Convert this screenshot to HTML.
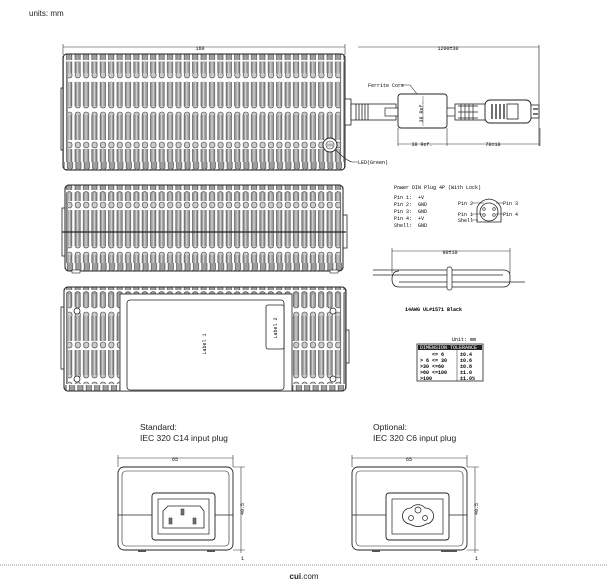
<!DOCTYPE html>
<html><head><meta charset="utf-8"><style>
html,body{margin:0;padding:0;background:#fff;}
svg{display:block;font-family:"Liberation Sans",sans-serif;}
.t{font-size:5px;font-family:"Liberation Mono",monospace;}
</style></head><body>
<svg width="608" height="582" viewBox="0 0 608 582">
<defs>
<pattern id="rib" x="66" y="0" width="8.4" height="10" patternUnits="userSpaceOnUse">
<rect x="0" y="0" width="8.4" height="10" fill="#fff"/>
<rect x="0.6" y="0" width="5.2" height="10" fill="#9e9e9e"/>
<line x1="0.6" y1="0" x2="0.6" y2="10" stroke="#333" stroke-width="0.6"/>
<line x1="5.8" y1="0" x2="5.8" y2="10" stroke="#333" stroke-width="0.6"/>
<line x1="3.2" y1="0" x2="3.2" y2="10" stroke="#e6e6e6" stroke-width="0.9"/>
</pattern>
<pattern id="band" x="66" y="0" width="8.4" height="10" patternUnits="userSpaceOnUse">
<rect width="8.4" height="10" fill="#fff"/>
<rect x="0.8" y="2" width="5.2" height="6" rx="2.5" fill="#ccc" stroke="#333" stroke-width="0.6"/>
</pattern>
<pattern id="top" x="66" y="0" width="8.4" height="10" patternUnits="userSpaceOnUse">
<rect width="8.4" height="10" fill="#fff"/>
<path d="M0.6 10 V3 Q3.2 0 5.8 3 V10" fill="#9e9e9e" stroke="#333" stroke-width="0.6"/>
</pattern>
</defs>

<text x="29" y="16" font-size="8" fill="#222">units:  mm</text>

<!-- TOP VIEW -->
<line x1="63" y1="47" x2="345" y2="47" stroke="#333" stroke-width="0.6"/>
<line x1="63" y1="44" x2="63" y2="55" stroke="#333" stroke-width="0.6"/>
<line x1="345" y1="44" x2="345" y2="55" stroke="#333" stroke-width="0.6"/>
<text x="200" y="50" class="t" text-anchor="middle">160</text>
<rect x="61" y="88" width="4" height="62" fill="#fff" stroke="#222" stroke-width="0.8"/>
<rect x="63" y="54" width="282" height="116" rx="4" fill="url(#rib)" stroke="#222" stroke-width="1"/>
<rect x="64" y="54.5" width="280" height="7" fill="url(#top)"/>
<rect x="64" y="162" width="280" height="7" fill="url(#top)" transform="rotate(180 204 165.5)"/>
<rect x="68" y="73" width="272" height="9" fill="url(#band)"/>
<rect x="68" y="106" width="272" height="9" fill="url(#band)"/>
<rect x="68" y="140" width="272" height="9" fill="url(#band)"/>
<rect x="63" y="54" width="282" height="116" rx="4" fill="none" stroke="#222" stroke-width="1"/>
<circle cx="330" cy="145" r="7" fill="#fff" stroke="#222" stroke-width="1"/>
<circle cx="330" cy="145" r="4" fill="#fff" stroke="#222" stroke-width="0.6"/>
<path d="M327 145h6M330 142v6M328 143v4M332 143v4" stroke="#333" stroke-width="0.4"/>
<path d="M336 150 Q345 160 352 162 H358" fill="none" stroke="#222" stroke-width="0.6"/>
<text x="358" y="164" class="t" font-size="4.5">LED(Green)</text>
<!-- cable -->
<rect x="345" y="99" width="6" height="26" fill="#fff" stroke="#222" stroke-width="0.8"/>
<rect x="351" y="104" width="45" height="16" fill="#fff" stroke="#222" stroke-width="0.8"/>
<path d="M356 104v16M359 104v16M362 104v16M365 104v16M368 104v16" stroke="#222" stroke-width="0.8"/>
<rect x="385" y="108" width="13" height="8" fill="#fff" stroke="#222" stroke-width="0.7"/>
<rect x="398" y="94" width="49" height="34" rx="3" fill="#fff" stroke="#222" stroke-width="0.9"/>
<rect x="447" y="108" width="10" height="8" fill="#fff" stroke="#222" stroke-width="0.7"/>
<rect x="455" y="104" width="32" height="16" fill="#fff" stroke="#222" stroke-width="0.8"/>
<path d="M458 106h20M458 112h20M458 118h20M461 104v16M465 104v16M469 104v16M473 104v16" stroke="#222" stroke-width="0.7"/>
<rect x="485" y="100" width="46" height="23" rx="5" fill="#fff" stroke="#222" stroke-width="0.9"/>
<path d="M492 104v15M496 104v15M500 104v15M504 104v15" stroke="#222" stroke-width="1.3"/>
<rect x="507" y="104" width="11" height="15" fill="#fff" stroke="#222" stroke-width="0.8"/>
<rect x="531" y="105" width="8" height="13" fill="#fff" stroke="#222" stroke-width="0.8"/>
<path d="M533 109h5M533 114h5" stroke="#222" stroke-width="1.2"/>
<text x="423" y="112" class="t" font-size="4.5" transform="rotate(-90 423 112)" text-anchor="middle">38 Ref.</text>
<line x1="423" y1="96" x2="423" y2="126" stroke="#333" stroke-width="0.4"/>
<text x="368" y="87" class="t">Ferrite Core</text>
<path d="M401 85 H410 L417 94" fill="none" stroke="#222" stroke-width="0.6"/>
<line x1="358" y1="47" x2="539" y2="47" stroke="#333" stroke-width="0.6"/>
<text x="448" y="50" class="t" text-anchor="middle">1200±30</text>
<line x1="539" y1="45" x2="539" y2="146" stroke="#333" stroke-width="0.7"/>
<path d="M398 128v18M447 128v18M540 128v18" stroke="#333" stroke-width="0.6"/>
<line x1="398" y1="144" x2="539" y2="144" stroke="#333" stroke-width="0.6"/>
<text x="422" y="146" class="t" text-anchor="middle" fill="#111">38 Ref.</text>
<text x="493" y="146" class="t" text-anchor="middle">70±10</text>

<!-- SIDE VIEW -->
<rect x="62" y="208" width="4" height="48" fill="#fff" stroke="#222" stroke-width="0.8"/>
<rect x="343" y="215" width="4" height="33" fill="#fff" stroke="#222" stroke-width="0.8"/>
<rect x="65" y="185" width="278" height="86" rx="4" fill="url(#rib)" stroke="#222" stroke-width="1"/>
<rect x="66" y="185.5" width="276" height="7" fill="url(#top)"/>
<rect x="66" y="263" width="276" height="7" fill="url(#top)" transform="rotate(180 204 266.5)"/>
<rect x="68" y="201" width="272" height="9" fill="url(#band)"/>
<rect x="68" y="246" width="272" height="9" fill="url(#band)"/>
<line x1="62" y1="232" x2="346" y2="232" stroke="#222" stroke-width="1.2"/>
<rect x="65" y="185" width="278" height="86" rx="4" fill="none" stroke="#222" stroke-width="1"/>
<rect x="72" y="270" width="8" height="3" fill="#fff" stroke="#222" stroke-width="0.6"/>
<rect x="330" y="270" width="8" height="3" fill="#fff" stroke="#222" stroke-width="0.6"/>

<!-- BOTTOM VIEW -->
<rect x="61" y="307" width="4" height="62" fill="#fff" stroke="#222" stroke-width="0.8"/>
<rect x="345" y="330" width="4" height="33" fill="#fff" stroke="#222" stroke-width="0.8"/>
<rect x="64" y="287" width="282" height="104" rx="4" fill="url(#rib)" stroke="#222" stroke-width="1"/>
<rect x="65" y="287.5" width="280" height="7" fill="url(#top)"/>
<rect x="65" y="384" width="280" height="7" fill="url(#top)" transform="rotate(180 205 387.5)"/>
<rect x="68" y="307" width="272" height="9" fill="url(#band)"/>
<rect x="68" y="341" width="272" height="9" fill="url(#band)"/>
<rect x="68" y="375" width="272" height="9" fill="url(#band)"/>
<rect x="64" y="287" width="282" height="104" rx="4" fill="none" stroke="#222" stroke-width="1"/>
<rect x="120" y="294" width="172" height="97" fill="#fff" stroke="#222" stroke-width="0.8"/>
<rect x="127" y="300" width="157" height="90" rx="3" fill="#fff" stroke="#222" stroke-width="0.8"/>
<rect x="266" y="305" width="18" height="44" rx="2" fill="#fff" stroke="#222" stroke-width="0.8"/>
<text x="206" y="344" class="t" transform="rotate(-90 206 344)" text-anchor="middle">Label 1</text>
<text x="277" y="328" class="t" transform="rotate(-90 277 328)" text-anchor="middle">Label 2</text>
<circle cx="77" cy="311" r="3" fill="#fff" stroke="#222" stroke-width="0.8"/>
<circle cx="77" cy="379" r="3" fill="#fff" stroke="#222" stroke-width="0.8"/>
<circle cx="333" cy="311" r="3" fill="#fff" stroke="#222" stroke-width="0.8"/>
<circle cx="333" cy="379" r="3" fill="#fff" stroke="#222" stroke-width="0.8"/>

<!-- PIN TABLE -->
<text x="394" y="189" class="t">Power DIN Plug 4P (With Lock)</text>
<g class="t">
<text x="394" y="199">Pin 1:</text><text x="418" y="199">+V</text>
<text x="394" y="206">Pin 2:</text><text x="418" y="206">GND</text>
<text x="394" y="213">Pin 3:</text><text x="418" y="213">GND</text>
<text x="394" y="220">Pin 4:</text><text x="418" y="220">+V</text>
<text x="394" y="227">Shell:</text><text x="418" y="227">GND</text>
<text x="458" y="205">Pin 2</text><text x="503" y="205">Pin 3</text>
<text x="458" y="216">Pin 1</text><text x="503" y="216">Pin 4</text>
<text x="458" y="222">Shell</text>
</g>
<path d="M477 208 Q480 200 489 199 Q498 200 501 208 V222 H477Z" fill="#fff" stroke="#222" stroke-width="0.8"/>
<circle cx="489" cy="212" r="9" fill="#fff" stroke="#222" stroke-width="0.8"/>
<circle cx="484" cy="209" r="1.3" fill="none" stroke="#222" stroke-width="0.6"/>
<circle cx="494" cy="209" r="1.3" fill="none" stroke="#222" stroke-width="0.6"/>
<circle cx="484" cy="215" r="1.3" fill="none" stroke="#222" stroke-width="0.6"/>
<circle cx="494" cy="215" r="1.3" fill="none" stroke="#222" stroke-width="0.6"/>
<path d="M472 203h12M496 203h7M472 214h10M496 214h7M472 220h6" stroke="#222" stroke-width="0.5" fill="none"/>

<!-- CABLE LOOP -->
<line x1="392" y1="251" x2="510" y2="251" stroke="#333" stroke-width="0.6"/>
<path d="M392 248v25M510 248v25" stroke="#333" stroke-width="0.6"/>
<text x="450" y="254" class="t" text-anchor="middle">90±10</text>
<path d="M373 270 H503 Q510 270 510 276 V280 Q510 287 503 287 H399 Q392 287 392 279 Q392 271 399 271" fill="none" stroke="#222" stroke-width="0.8"/>
<path d="M373 275 H503 M399 282 H525" fill="none" stroke="#222" stroke-width="0.8"/>
<rect x="447" y="267" width="5" height="23" rx="2" fill="#fff" stroke="#222" stroke-width="0.7"/>
<text x="405" y="311" class="t" font-size="7" font-weight="bold">14AWG UL#1571 Black</text>

<!-- TOLERANCE TABLE -->
<text x="452" y="341" class="t" font-size="4.5">Unit: mm</text>
<rect x="417" y="344" width="66" height="37" fill="#fff" stroke="#222" stroke-width="0.8"/>
<rect x="418" y="345" width="64" height="5" fill="#222"/>
<text x="420" y="349" class="t" font-size="4" fill="#fff">DIMENSION TOLERANCE</text>
<g class="t" font-size="4.5" font-weight="bold">
<text x="432" y="356">&lt;= 6</text><text x="460" y="356">±0.4</text>
<text x="420" y="362">&gt; 6  &lt;= 30</text><text x="460" y="362">±0.6</text>
<text x="420" y="368">&gt;30 &lt;=60</text><text x="460" y="368">±0.8</text>
<text x="420" y="374">&gt;60 &lt;=100</text><text x="460" y="374">±1.0</text>
<text x="420" y="380">&gt;100</text><text x="460" y="380">±1.0%</text>
</g>
<line x1="457" y1="350" x2="457" y2="381" stroke="#222" stroke-width="0.5"/>

<!-- FRONT VIEWS -->
<text x="140" y="430" font-size="8.5" fill="#222">Standard:</text>
<text x="140" y="441" font-size="8.5" fill="#222">IEC 320 C14 input plug</text>
<text x="373" y="430" font-size="8.5" fill="#222">Optional:</text>
<text x="373" y="441" font-size="8.5" fill="#222">IEC 320 C6 input plug</text>

<g>
<line x1="118" y1="458" x2="233" y2="458" stroke="#333" stroke-width="0.6"/>
<path d="M118 455v12M233 455v12" stroke="#333" stroke-width="0.6"/>
<text x="175" y="461" class="t" text-anchor="middle">65</text>
<rect x="118" y="467" width="115" height="83" rx="6" fill="#fff" stroke="#222" stroke-width="0.9"/>
<rect x="122" y="471" width="107" height="75" rx="4" fill="none" stroke="#222" stroke-width="0.6"/>
<line x1="118" y1="515" x2="233" y2="515" stroke="#222" stroke-width="0.8"/>
<rect x="152" y="493" width="63" height="47" rx="3" fill="#fff" stroke="#222" stroke-width="0.9"/>
<rect x="158" y="499" width="51" height="35" fill="#fff" stroke="#222" stroke-width="0.7"/>
<path d="M168 506 H200 L204 511 V528 H163 V511 Z" fill="#fff" stroke="#222" stroke-width="0.8"/>
<rect x="181" y="509" width="3" height="6" fill="#777" stroke="#222" stroke-width="0.5"/>
<rect x="169" y="518" width="3" height="6" fill="#777" stroke="#222" stroke-width="0.5"/>
<rect x="193" y="518" width="3" height="6" fill="#777" stroke="#222" stroke-width="0.5"/>
<path d="M233 467H245M233 550H245M241 467V553" stroke="#333" stroke-width="0.6"/>
<text x="244" y="509" class="t" transform="rotate(-90 244 509)" text-anchor="middle">40.5</text>
<text x="241" y="560" class="t">1</text>
<rect x="138" y="550" width="8" height="2" fill="#555"/><rect x="207" y="550" width="8" height="2" fill="#555"/>
</g>
<g>
<line x1="352" y1="458" x2="467" y2="458" stroke="#333" stroke-width="0.6"/>
<path d="M352 455v12M467 455v12" stroke="#333" stroke-width="0.6"/>
<text x="409" y="461" class="t" text-anchor="middle">65</text>
<rect x="352" y="467" width="115" height="83" rx="6" fill="#fff" stroke="#222" stroke-width="0.9"/>
<rect x="356" y="471" width="107" height="75" rx="4" fill="none" stroke="#222" stroke-width="0.6"/>
<line x1="352" y1="515" x2="467" y2="515" stroke="#222" stroke-width="0.8"/>
<rect x="386" y="493" width="63" height="47" rx="3" fill="#fff" stroke="#222" stroke-width="0.9"/>
<rect x="392" y="499" width="51" height="35" fill="#fff" stroke="#222" stroke-width="0.7"/>
<path d="M410 524 A8 8 0 0 1 411 508 A9 9 0 0 1 425 508 A8 8 0 0 1 426 524 Q418 529 410 524Z" fill="#fff" stroke="#222" stroke-width="0.8"/>
<circle cx="418" cy="510" r="3" fill="none" stroke="#222" stroke-width="0.7"/>
<circle cx="411" cy="518" r="2.5" fill="none" stroke="#222" stroke-width="0.7"/>
<circle cx="425" cy="518" r="2.5" fill="none" stroke="#222" stroke-width="0.7"/>
<path d="M467 467H479M467 550H479M475 467V553" stroke="#333" stroke-width="0.6"/>
<text x="478" y="509" class="t" transform="rotate(-90 478 509)" text-anchor="middle">40.5</text>
<text x="475" y="560" class="t">1</text>
<rect x="372" y="550" width="8" height="2" fill="#555"/><rect x="441" y="550" width="16" height="2" fill="#555"/>
</g>

<line x1="0" y1="565" x2="608" y2="565" stroke="#999" stroke-width="1" stroke-dasharray="1,1"/>
<text x="304" y="579" font-size="8" text-anchor="middle" fill="#222"><tspan font-weight="bold">cui</tspan>.com</text>
</svg>
</body></html>
